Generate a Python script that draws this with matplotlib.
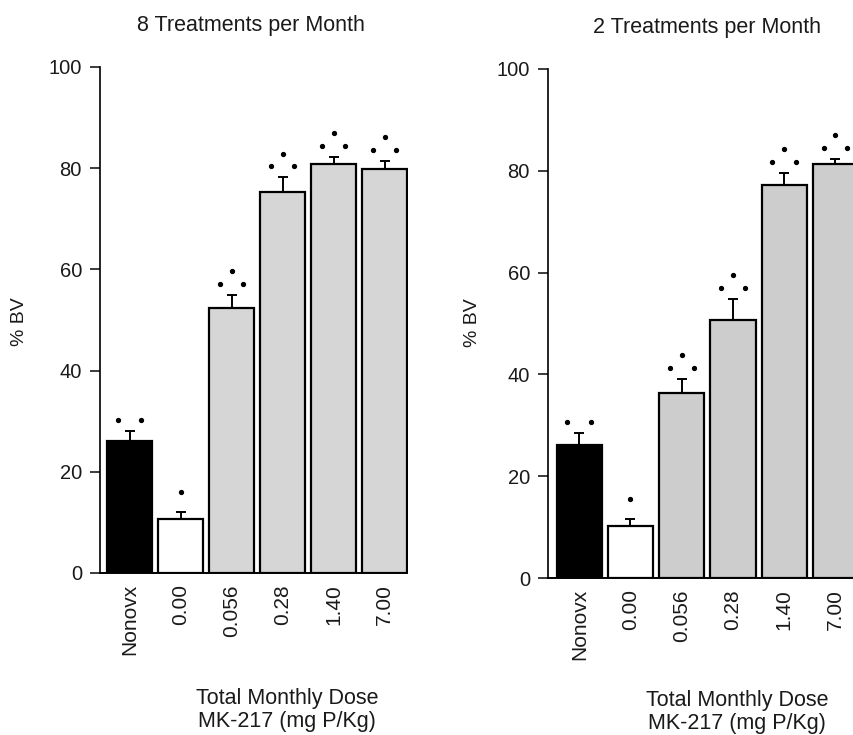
"""Percent bone volume (% BV) by total monthly dose of MK-217, two dosing schedules."""
import numpy as np
import matplotlib
matplotlib.use("Agg")
import matplotlib.pyplot as plt

plt.rcParams["font.family"] = ["Liberation Sans", "DejaVu Sans"]
plt.rcParams["text.color"] = "#1a1a1a"
plt.rcParams["xtick.color"] = "#1a1a1a"
plt.rcParams["ytick.color"] = "#1a1a1a"

# dados
doses = ["Nonovx", "0.00", "0.056", "0.28", "1.40", "7.00"]

bv_8 = [26.1, 10.7, 52.4, 75.2, 80.8, 79.8]
err_8 = [2.0, 1.4, 2.5, 3.0, 1.4, 1.6]
stars_8 = [2, 1, 3, 3, 3, 3]

bv_2 = [26.1, 10.2, 36.3, 50.7, 77.2, 81.3]
err_2 = [2.4, 1.4, 2.8, 4.1, 2.4, 1.0]
stars_2 = [2, 1, 3, 3, 3, 3]

titles = ["8 Treatments per Month", "2 Treatments per Month"]


def painel(ax, bv, err, stars, gray):
    x = np.arange(len(doses))
    cores = ["black", "white"] + [gray] * (len(doses) - 2)
    ax.bar(x, bv, width=0.88, color=cores, edgecolor="black", linewidth=1.6, zorder=2)
    # barra de erro so para cima
    ax.errorbar(x, bv, yerr=[np.zeros(len(bv)), err], fmt="none", ecolor="black",
                elinewidth=1.4, capsize=3.5, capthick=1.4, zorder=3)
    # asteriscos de significancia
    for xi, b, e, n in zip(x, bv, err, stars):
        top = b + e
        if n == 1:
            ax.plot([xi], [top + 4.0], "o", color="black", ms=2.8, zorder=4)
        else:
            ax.plot([xi - 0.23, xi + 0.23], [top + 2.2, top + 2.2], "o", color="black", ms=2.8, zorder=4)
            if n == 3:
                ax.plot([xi], [top + 4.7], "o", color="black", ms=2.8, zorder=4)

    ax.set_ylim(0, 100)
    ax.set_yticks([0, 20, 40, 60, 80, 100])
    ax.set_xticks(x)
    ax.set_xticklabels(doses, rotation=90, fontsize=15)
    ax.tick_params(axis="x", length=0, pad=8)
    ax.tick_params(axis="y", length=7, width=1.2, labelsize=14.5, pad=6)
    ax.spines["top"].set_visible(False)
    ax.spines["right"].set_visible(False)
    ax.spines["left"].set_linewidth(1.2)
    ax.spines["bottom"].set_linewidth(1.4)


fig = plt.figure(figsize=(8.54, 7.35), dpi=100)

ax1 = fig.add_axes([100 / 854, 1 - 573 / 735, 308 / 854, 506 / 735])
ax1.set_xlim(-0.58, 5.46)
painel(ax1, bv_8, err_8, stars_8, "#d6d6d6")
ax1.spines["bottom"].set_bounds(-0.58, 5.44)

ax2 = fig.add_axes([548 / 854, 1 - 578 / 735, 311 / 854, 509 / 735])
ax2.set_xlim(-0.61, 5.46)
painel(ax2, bv_2, err_2, stars_2, "#cdcdcd")

# titulos e rotulos
fig.text(251 / 854, 1 - 26 / 735, titles[0], ha="center", va="center", fontsize=15.5)
fig.text(707 / 854, 1 - 28 / 735, titles[1], ha="center", va="center", fontsize=15.5)

fig.text(20 / 854, 1 - 322 / 735, "% BV", rotation=90, ha="center", va="center", fontsize=14)
fig.text(473 / 854, 1 - 323 / 735, "% BV", rotation=90, ha="center", va="center", fontsize=14)

fig.text(287 / 854, 1 - 710 / 735, "Total Monthly Dose\nMK-217 (mg P/Kg)",
         ha="center", va="center", fontsize=15.5, linespacing=1.1)
fig.text(737 / 854, 1 - 712 / 735, "Total Monthly Dose\nMK-217 (mg P/Kg)",
         ha="center", va="center", fontsize=15.5, linespacing=1.1)

fig.savefig("out.png", dpi=100)
